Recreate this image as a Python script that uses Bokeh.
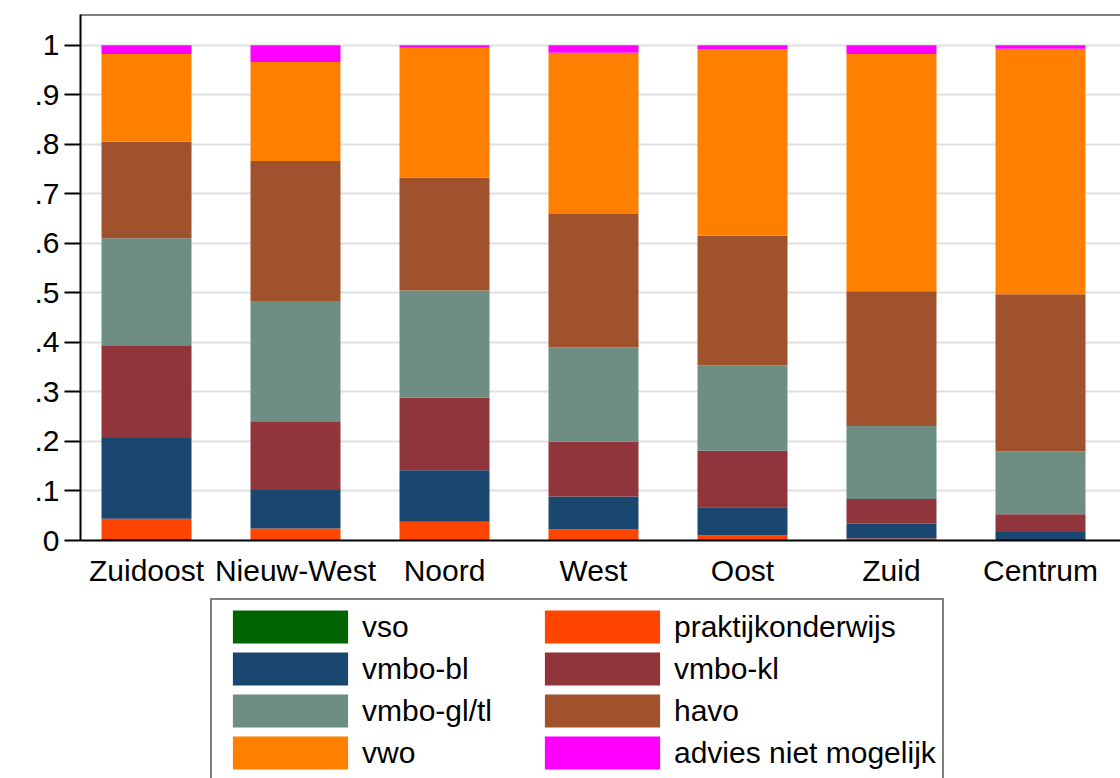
from bokeh.plotting import figure
from bokeh.layouts import column
from bokeh.models import Range1d, FixedTicker, Legend, LegendItem, Span, ColumnDataSource
from bokeh.embed import file_html
from bokeh.resources import INLINE

districts = ["Zuidoost", "Nieuw-West", "Noord", "West", "Oost", "Zuid", "Centrum"]
levels = ["vso", "praktijkonderwijs", "vmbo-bl", "vmbo-kl", "vmbo-gl/tl", "havo", "vwo", "advies niet mogelijk"]
colors = ["#006400", "#FF4500", "#1A476F", "#90353B", "#6E8E84", "#A0522D", "#FF8000", "#FF00FF"]

vso = [0.003, 0.0, 0.0, 0.0, 0.0, 0.0, 0.0]
praktijkonderwijs = [0.041, 0.024, 0.038, 0.022, 0.010, 0.004, 0.001]
vmbo_bl = [0.163, 0.078, 0.104, 0.067, 0.057, 0.030, 0.016]
vmbo_kl = [0.187, 0.139, 0.146, 0.111, 0.114, 0.050, 0.036]
vmbo_gltl = [0.216, 0.241, 0.217, 0.190, 0.173, 0.147, 0.127]
havo = [0.195, 0.284, 0.228, 0.269, 0.262, 0.272, 0.317]
vwo = [0.177, 0.200, 0.262, 0.326, 0.376, 0.479, 0.496]
advies = [0.018, 0.034, 0.005, 0.015, 0.008, 0.018, 0.007]

series = [vso, praktijkonderwijs, vmbo_bl, vmbo_kl, vmbo_gltl, havo, vwo, advies]
y_ticks = [0, 0.1, 0.2, 0.3, 0.4, 0.5, 0.6, 0.7, 0.8, 0.9, 1.0]
y_tick_labels = ["0", ".1", ".2", ".3", ".4", ".5", ".6", ".7", ".8", ".9", "1"]

FONT = "Liberation Sans"

p = figure(width=1120, height=590, output_backend="svg", toolbar_location=None,
           x_range=Range1d(-0.443, 6.537), y_range=Range1d(0, 1.062),
           min_border_left=80, min_border_right=0, min_border_top=14, min_border_bottom=50)
p.outline_line_color = None
p.background_fill_color = "white"
p.border_fill_color = "white"

xs = list(range(len(districts)))
bottom = [0.0] * len(districts)
for vals, col in zip(series, colors):
    top = [b + v for b, v in zip(bottom, vals)]
    src = ColumnDataSource(dict(x=xs, bottom=bottom, top=top))
    p.vbar(x="x", bottom="bottom", top="top", width=0.604, source=src,
           fill_color=col, line_color=None)
    bottom = top

# top border
p.add_layout(Span(location=1.062, dimension="width", line_color="black", line_width=2))

# grid
p.xgrid.grid_line_color = None
p.ygrid.ticker = FixedTicker(ticks=y_ticks)
p.ygrid.grid_line_color = "#e0e0e0"
p.ygrid.grid_line_width = 2
p.ygrid.level = "underlay"

# y axis
p.yaxis.ticker = FixedTicker(ticks=y_ticks)
p.yaxis.major_label_overrides = {t: l for t, l in zip(y_ticks, y_tick_labels)}
p.yaxis.major_label_text_font = FONT
p.yaxis.major_label_text_font_size = "30px"
p.yaxis.major_label_text_color = "black"
p.yaxis.axis_line_color = "black"
p.yaxis.axis_line_width = 2
p.yaxis.major_tick_line_color = "black"
p.yaxis.major_tick_line_width = 2
p.yaxis.major_tick_out = 16
p.yaxis.major_tick_in = 0
p.yaxis.minor_tick_line_color = None
p.yaxis.major_label_standoff = 5

# x axis
p.xaxis.ticker = FixedTicker(ticks=xs)
p.xaxis.major_label_overrides = {i: d for i, d in enumerate(districts)}
p.xaxis.major_label_text_font = FONT
p.xaxis.major_label_text_font_size = "30px"
p.xaxis.major_label_text_color = "black"
p.xaxis.axis_line_color = "black"
p.xaxis.axis_line_width = 2
p.xaxis.major_tick_line_color = None
p.xaxis.minor_tick_line_color = None
p.xaxis.major_label_standoff = 7

# legend in a separate panel below (proxy renderers lie outside the visible range)
lg = figure(width=1120, height=188, output_backend="svg", toolbar_location=None,
            x_range=Range1d(0, 1), y_range=Range1d(0, 1),
            min_border_left=80, min_border_right=0, min_border_top=0, min_border_bottom=0)
lg.axis.visible = False
lg.grid.visible = False
lg.outline_line_color = None
lg.border_fill_color = "white"
lg_renderers = [lg.vbar(x=[-5], top=[0], width=0.5, fill_color=c, line_color=None) for c in colors]

items = [LegendItem(label=lab, renderers=[r]) for lab, r in zip(levels, lg_renderers)]
legend = Legend(items=items, location=(130, -3), orientation="horizontal", ncols=2,
                glyph_width=144, glyph_height=41, label_standoff=0, label_width=167,
                label_height=32, spacing=1, padding=6, margin=0,
                label_text_font=FONT, label_text_font_size="30px",
                label_text_color="black", border_line_color="black", border_line_width=2,
                background_fill_color="white", background_fill_alpha=1.0)
lg.add_layout(legend, "center")

layout = column(p, lg, spacing=0)
open("out.html", "w").write(file_html(layout, INLINE))
